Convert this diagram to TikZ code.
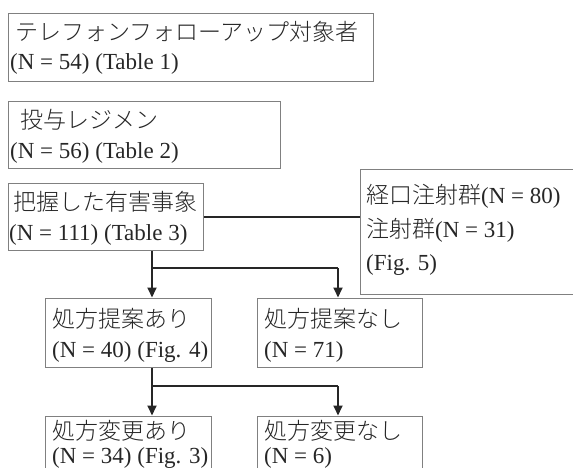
\documentclass[tikz,border=0pt]{standalone}
\usepackage{fontspec}
\setmainfont{Liberation Serif}
\newfontfamily\jp{Noto Sans CJK JP}[UprightFont=* Light]
\usetikzlibrary{arrows.meta}
\begin{document}
\begin{tikzpicture}[x=1pt,y=-1pt,
  box/.style={draw=black!50, line width=1.1pt, anchor=north west, inner sep=0pt},
  txt/.style={anchor=base west, inner sep=0pt, text=black!85, font=\fontsize{23}{27}\selectfont},
  conn/.style={draw=black!85, line width=1.8pt},
  arr/.style={conn, -{Triangle[length=10pt,width=9pt]}, shorten >=0.5pt}]
\useasboundingbox (0,0) rectangle (573,468);
\clip (0,0) rectangle (573,468);
% boxes
\node[box, minimum width=365pt, minimum height=68pt] (b1) at (8,13) {};
\node[box, minimum width=272pt, minimum height=67pt] (b2) at (8,101) {};
\node[box, minimum width=195pt, minimum height=67pt] (b3) at (8,183) {};
\node[box, minimum width=240pt, minimum height=125pt] (r) at (360,169) {};
\node[box, minimum width=166pt, minimum height=69pt] (b4) at (45,298) {};
\node[box, minimum width=165pt, minimum height=69pt] (b5) at (257,298) {};
\node[box, minimum width=166pt, minimum height=80pt] (b6) at (45,416) {};
\node[box, minimum width=165pt, minimum height=80pt] (b7) at (257,416) {};
% texts
\node[txt] (t1a) at (15,41) {\jp テレフォンフォローアップ対象者};
\node[txt] (t1b) at (10,70) {(N = 54) (Table 1)};
\node[txt] (t2a) at (20,129) {\jp 投与レジメン};
\node[txt] (t2b) at (10,158) {(N = 56) (Table 2)};
\node[txt] (t3a) at (13,210) {\jp 把握した有害事象};
\node[txt] (t3b) at (9,240) {(N = 111) (Table 3)};
\node[txt] (tra) at (366,204) {{\jp 経口注射群}(N = 80)};
\node[txt] (trb) at (366,237) {{\jp 注射群}(N = 31)};
\node[txt] (trc) at (366,270) {(Fig. 5)};
\node[txt] (t4a) at (52,327) {\jp 処方提案あり};
\node[txt] (t4b) at (52,357) {(N = 40) (Fig. 4)};
\node[txt] (t5a) at (264,327) {\jp 処方提案なし};
\node[txt] (t5b) at (264,357) {(N = 71)};
\node[txt] (t6a) at (52,439) {\jp 処方変更あり};
\node[txt] (t6b) at (52,463) {(N = 34) (Fig. 3)};
\node[txt] (t7a) at (264,439) {\jp 処方変更なし};
\node[txt] (t7b) at (264,463) {(N = 6)};
% connectors
\draw[conn] (b3.east) -- (b3.east -| r.west);
\coordinate (j1) at (152,268);
\coordinate (k1) at (338,268);
\draw[conn] (b3.south -| j1) -- (j1) -- (k1);
\draw[arr] (j1) -- (b4.north -| j1);
\draw[arr] (k1) -- (b5.north -| k1);
\coordinate (j2) at (152,386);
\coordinate (k2) at (338,386);
\draw[conn] (b4.south -| j2) -- (j2) -- (k2);
\draw[arr] (j2) -- (b6.north -| j2);
\draw[arr] (k2) -- (b7.north -| k2);
\end{tikzpicture}
\end{document}
